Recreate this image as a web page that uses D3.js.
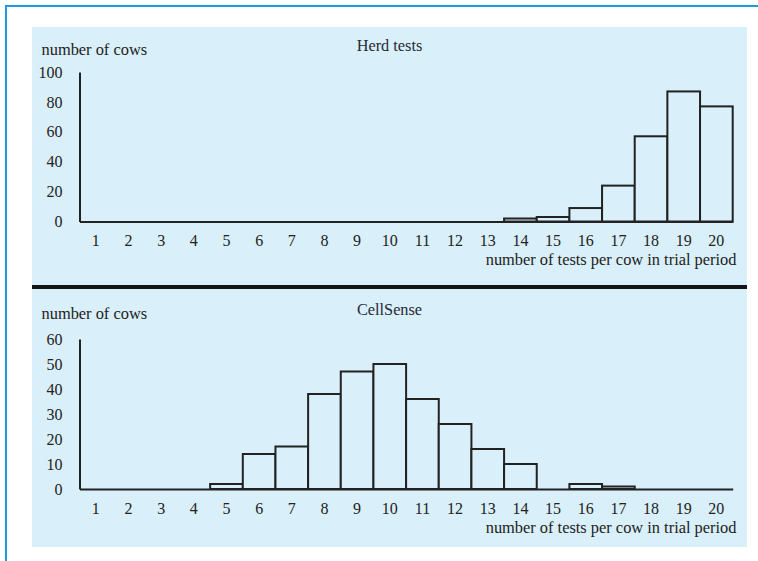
<!DOCTYPE html>
<html>
<head>
<meta charset="utf-8">
<script src="https://cdn.jsdelivr.net/npm/d3@7"></script>
<style>
  html, body { margin: 0; padding: 0; background: #ffffff; }
  svg { display: block; }
  text { font-family: "Liberation Serif", "Times New Roman", serif; }
</style>
</head>
<body>
<script>
// ---- data ----
const bins = ["1","2","3","4","5","6","7","8","9","10","11","12","13","14","15","16","17","18","19","20"];
const herdTests = [0,0,0,0,0,0,0,0,0,0,0,0,0,2,3,9,24,57,87,77];
const cellSense = [0,0,0,0,2,14,17,38,47,50,36,26,16,10,0,2,1,0,0,0];
const herdTicks = [0,20,40,60,80,100];
const cellTicks = [0,10,20,30,40,50,60];
const titles = ["Herd tests", "CellSense"];
const yLabel = "number of cows";
const xLabel = "number of tests per cow in trial period";

const W = 758, H = 561;
const svg = d3.select("body").append("svg").attr("width", W).attr("height", H);

// outer blue frame (top and left)
svg.append("rect").attr("x", 5).attr("y", 5).attr("width", W - 5).attr("height", 2).attr("fill", "#1b9ce2");
svg.append("rect").attr("x", 5).attr("y", 5).attr("width", 2).attr("height", H - 5).attr("fill", "#1b9ce2");

const panelBg = "#d9eff9";
const ink = "#222";

const panels = [
  { top: 27, bottom: 285, yTop: 72, yZero: 221.5, max: 100, ticks: herdTicks, values: herdTests, title: titles[0],
    titleY: 51, yLabY: 55, xLabY: 265 },
  { top: 289, bottom: 547, yTop: 339, yZero: 489, max: 60, ticks: cellTicks, values: cellSense, title: titles[1],
    titleY: 315, yLabY: 319, xLabY: 533 }
];

// panel backgrounds
panels.forEach(p => {
  svg.append("rect").attr("x", 32).attr("y", p.top).attr("width", 747 - 32).attr("height", p.bottom - p.top)
    .attr("fill", panelBg);
});
// thick separator
svg.append("rect").attr("x", 32).attr("y", 285).attr("width", 747 - 32).attr("height", 4).attr("fill", "#151515");

const x = d3.scaleBand().domain(bins).range([79.5, 732.7]).padding(0);

panels.forEach(p => {
  const g = svg.append("g");
  const y = d3.scaleLinear().domain([0, p.max]).range([p.yZero, p.yTop]);

  // bars
  g.selectAll("rect.bar")
    .data(bins.map((b, i) => ({ b, v: p.values[i] })).filter(d => d.v > 0))
    .join("rect")
    .attr("class", "bar")
    .attr("x", d => x(d.b))
    .attr("y", d => y(d.v))
    .attr("width", x.bandwidth())
    .attr("height", d => y(0) - y(d.v))
    .attr("fill", panelBg)
    .attr("stroke", ink)
    .attr("stroke-width", 2);

  // y axis
  const ya = g.append("g").attr("transform", `translate(${x.range()[0]},0)`)
    .call(d3.axisLeft(y).tickValues(p.ticks).tickSize(0).tickSizeOuter(0).tickPadding(17));
  ya.select(".domain").attr("stroke", ink).attr("stroke-width", 2);
  ya.selectAll("text").attr("font-family", "Liberation Serif, serif").attr("font-size", 16).attr("fill", "#222");

  // x axis
  const xa = g.append("g").attr("transform", `translate(0,${p.yZero})`)
    .call(d3.axisBottom(x).tickSize(0).tickSizeOuter(0).tickPadding(13.5));
  xa.select(".domain").attr("stroke", ink).attr("stroke-width", 2);
  xa.selectAll("text").attr("font-family", "Liberation Serif, serif").attr("font-size", 16).attr("fill", "#222");

  // texts
  g.append("text").attr("x", 389.5).attr("y", p.titleY).attr("text-anchor", "middle")
    .attr("font-size", 16.3).attr("fill", "#1f2937").text(p.title);
  g.append("text").attr("x", 41.5).attr("y", p.yLabY)
    .attr("font-size", 16.4).attr("fill", "#222").text(yLabel);
  g.append("text").attr("x", 736.5).attr("y", p.xLabY).attr("text-anchor", "end")
    .attr("font-size", 16.4).attr("fill", "#222").text(xLabel);
});
</script>
</body>
</html>
